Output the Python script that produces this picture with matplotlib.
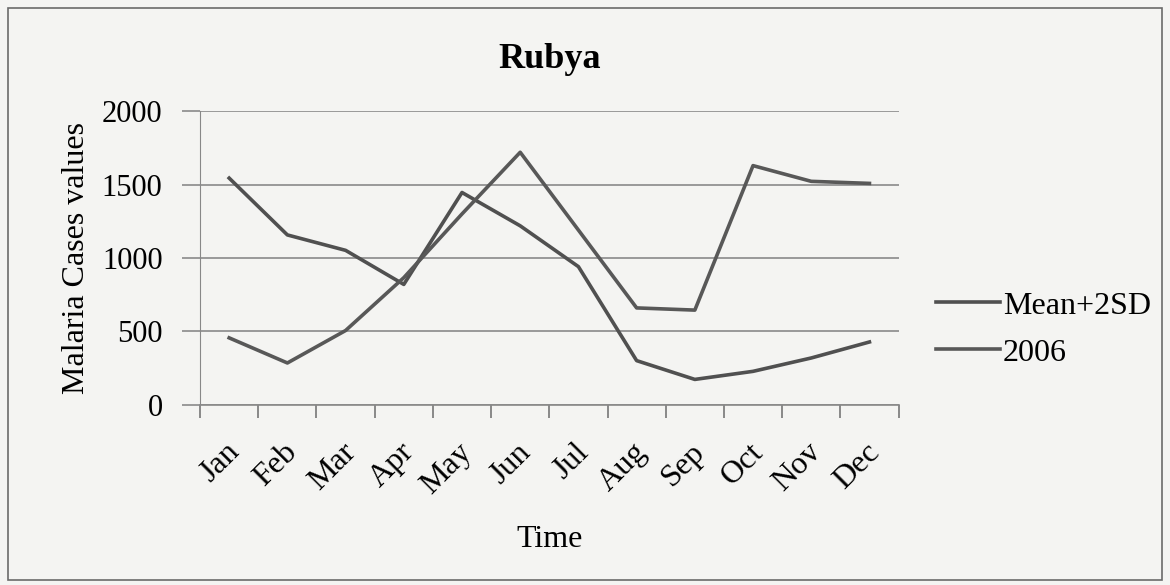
import matplotlib.pyplot as plt
from matplotlib.patches import Rectangle

plt.rcParams['font.family'] = ['Liberation Serif', 'DejaVu Serif']

# datos
meses = ['Jan', 'Feb', 'Mar', 'Apr', 'May', 'Jun', 'Jul', 'Aug', 'Sep', 'Oct', 'Nov', 'Dec']
mean_2sd = [1544, 1157, 1052, 820, 1446, 1219, 941, 301, 173, 228, 319, 428]
casos_2006 = [456, 285, 506, 866, 1300, 1720, 1190, 660, 645, 1629, 1522, 1508]

fig = plt.figure(figsize=(11.7, 5.85), dpi=100, facecolor='#f4f4f2')
ax = fig.add_axes([0.171, 0.308, 0.597, 0.502])
ax.set_facecolor('#f4f4f2')

x = range(len(meses))
ax.plot(x, mean_2sd, color='#505050', lw=2.6, label='Mean+2SD')
ax.plot(x, casos_2006, color='#585858', lw=2.6, label='2006')

ax.set_xlim(-0.5, 11.5)
ax.set_ylim(0, 2000)
ax.set_yticks([0, 500, 1000, 1500, 2000])
ax.yaxis.grid(True, color='#8a8a8a', lw=1.2)
ax.set_axisbelow(True)

# marcas del eje x entre categorias
ax.set_xticks([i - 0.5 for i in range(13)], minor=False)
ax.set_xticklabels([])
ax.set_xticks([i + 0.1 for i in x], minor=True)
ax.set_xticklabels(meses, minor=True, rotation=45, ha='right', va='center',
                   rotation_mode='anchor', fontsize=23)
ax.tick_params(axis='x', which='major', length=9, color='#777777', width=1.2)
ax.tick_params(axis='x', which='minor', length=0, pad=31)
ax.tick_params(axis='y', labelsize=22, length=13, color='#8a8a8a', width=1.2, pad=14)

for s in ['top', 'right']:
    ax.spines[s].set_visible(False)
ax.spines['left'].set_color('#888888')
ax.spines['bottom'].set_color('#888888')
ax.spines['bottom'].set_linewidth(1.2)

ax.set_title('Rubya', fontsize=26, fontweight='bold', pad=31)
ax.set_ylabel('Malaria Cases values', fontsize=23, labelpad=8)
ax.set_xlabel('Time', fontsize=23, labelpad=18)

fig.legend(loc='center left', bbox_to_anchor=(0.80, 0.437), frameon=False,
           fontsize=23, handlelength=2.0, handletextpad=0.1, labelspacing=0.55,
           borderpad=0, borderaxespad=0)

fig.patches.append(Rectangle((0.007, 0.008), 0.986, 0.978, transform=fig.transFigure,
                             fill=False, edgecolor='#6a6a6a', lw=1.2))

fig.savefig('out.png', dpi=100, facecolor=fig.get_facecolor())
